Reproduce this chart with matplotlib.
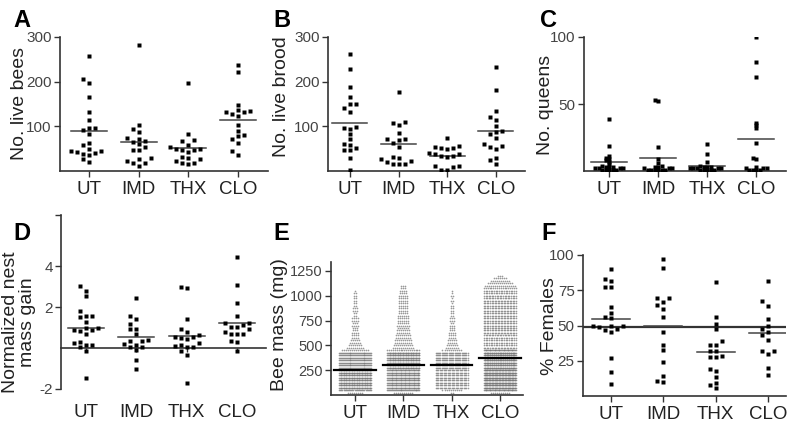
import numpy as np
import matplotlib.pyplot as plt

plt.rcParams['font.family'] = ['Liberation Sans', 'DejaVu Sans']

groups = ['UT', 'IMD', 'THX', 'CLO']

# A - live bees per nest
bees_ut = [257, 205, 196, 166, 132, 114, 97, 96, 92, 83, 62, 59, 50, 45, 44, 42, 40, 38, 36, 26, 20]
bees_imd = [281, 102, 94, 87, 75, 72, 67, 65, 60, 54, 47, 47, 28, 27, 22, 19, 19, 11]
bees_thx = [196, 83, 69, 67, 58, 53, 50, 49, 47, 47, 43, 32, 30, 26, 22, 19, 19, 16]
bees_clo = [237, 222, 148, 136, 134, 132, 132, 127, 123, 103, 90, 80, 78, 71, 62, 44, 36]

# B - live brood
brood_ut = [263, 228, 189, 165, 151, 149, 141, 131, 99, 97, 95, 83, 71, 60, 59, 51, 46, 46, 28, 2]
brood_imd = [176, 109, 108, 104, 84, 71, 71, 69, 62, 53, 32, 28, 26, 22, 20, 15, 15, 15]
brood_thx = [75, 57, 53, 51, 51, 49, 41, 38, 37, 34, 34, 32, 11, 11, 8, 2, 2]
brood_clo = [232, 181, 134, 122, 114, 101, 90, 87, 83, 75, 60, 57, 53, 50, 28, 25, 16]

# C - queens
queens_ut = [39, 19, 11, 10, 9, 8, 7, 5, 4, 3, 3, 3, 2, 2, 2, 2, 1, 1, 1, 1, 1]
queens_imd = [53, 52, 18, 9, 6, 4, 3, 3, 2, 2, 2, 1, 1, 1, 1, 1, 1]
queens_thx = [20, 13, 7, 4, 3, 3, 3, 2, 2, 2, 2, 2, 1, 1, 1, 1, 1]
queens_clo = [100, 81, 70, 36, 34, 32, 21, 10, 9, 3, 2, 2, 2, 1, 1, 1, 1]

# D - normalized nest mass gain
nest_ut = [3.02, 2.80, 2.54, 1.79, 1.59, 1.56, 1.50, 1.27, 0.98, 0.98, 0.88, 0.88, 0.85, 0.68,
           0.29, 0.23, 0.16, 0.16, 0.03, -0.13, -1.46]
nest_imd = [2.44, 1.59, 1.40, 1.17, 0.94, 0.91, 0.68, 0.39, 0.36, 0.33, 0.20, 0.16, 0.07, 0.03,
            -0.10, -0.59, -1.01]
nest_thx = [2.99, 2.93, 1.43, 0.91, 0.78, 0.65, 0.55, 0.52, 0.50, 0.46, 0.26, 0.16, 0.10, 0.07,
            0.07, -0.13, -0.33, -1.69]
nest_clo = [4.46, 3.06, 2.21, 1.59, 1.24, 1.20, 1.14, 1.04, 1.04, 0.91, 0.78, 0.68, 0.68, 0.68,
            0.33, 0.29, -0.13]

# E - bee mass (mg), counts of bees per 25 mg row
mass_rows = list(range(25, 1225, 25))
mass_ut = [8, 30, 45, 45, 45, 45, 45, 45, 45, 45, 35, 35, 35, 35, 35, 35, 35,
           14, 9, 7, 6, 5, 4, 4, 4, 3, 3, 4, 3, 4, 4, 2, 2, 3, 3, 2, 2, 2, 2, 2, 2, 1,
           0, 0, 0, 0, 0, 0]
mass_imd = [10, 35, 40, 40, 40, 40, 40, 40, 40, 40, 45, 45, 45, 45, 45, 45, 45,
            18, 11, 10, 9, 9, 8, 8, 7, 7, 6, 7, 6, 6, 6, 6, 5, 5, 5, 5, 5, 5, 5, 5, 4, 4, 3, 3,
            0, 0, 0, 0]
mass_thx = [2, 10, 25, 25, 25, 25, 25, 25, 25, 25, 28, 28, 28, 28, 28, 28, 28,
            10, 7, 6, 5, 5, 4, 4, 4, 3, 3, 3, 2, 3, 3, 2, 2, 2, 2, 2, 1, 2, 1, 2, 1, 1,
            0, 0, 0, 0, 0, 0]
mass_clo = [10, 40, 55, 55, 55, 55, 55, 55, 55, 55, 50, 50, 50, 50, 50, 50, 50,
            40, 22, 20, 20, 20, 20, 21, 22, 22, 22, 22, 22, 22, 22, 22, 22, 22, 22, 22, 22, 22,
            21, 21, 20, 20, 18, 16, 13, 10, 7, 3]

# F - % females
fem_ut = [90.3, 83.2, 81.8, 77.5, 77.5, 63, 59, 55.7, 55.2, 50, 50, 50, 49, 47.6, 46.7, 45.7,
          26.8, 16.8, 8.3]
fem_imd = [97, 91, 69.4, 69.4, 66.6, 64.2, 61.4, 56.2, 45.3, 36.5, 32.7, 24, 14.5, 10.7, 9.7]
fem_thx = [80.8, 55.7, 51.4, 47.2, 39.1, 36.3, 36.3, 32, 32, 28.2, 27.7, 27.7, 19.2, 17.8,
           13.5, 9.2, 7.8, 5.5]
fem_clo = [81.8, 67.1, 63.7, 54.3, 49.5, 47.2, 45.7, 43.4, 40, 32, 32, 29.6, 20.1, 14.9]
fem_ref = 49

W, H = 787, 424
fig = plt.figure(figsize=(W / 100, H / 100), dpi=100)
ink = '#333333'


def px_axes(l, t, r, b):
    return fig.add_axes([l / W, 1 - b / H, (r - l) / W, (b - t) / H])


def style(ax, xlim, ylim, yticks, ylabels):
    ax.set_xlim(*xlim)
    ax.set_ylim(*ylim)
    for s in ['top', 'right']:
        ax.spines[s].set_visible(False)
    for s in ['left', 'bottom']:
        ax.spines[s].set_color(ink)
        ax.spines[s].set_linewidth(1.2)
    ax.set_xticks([1, 2, 3, 4], groups)
    ax.set_yticks(yticks, ylabels)
    ax.tick_params(axis='both', direction='out', length=4.5, width=1, color=ink)
    ax.tick_params(axis='x', labelsize=13.5, labelcolor='#222222', pad=3)
    ax.tick_params(axis='y', labelsize=11, labelcolor='#444444', pad=1.5)
    ax.patch.set_visible(False)


def swarm(ax, vals, pos, slot_px=6.0, min_dy=5.0):
    # simple column scatter: push points sideways when they overlap
    vals = np.asarray(vals, float)
    ypx = ax.transData.transform(np.column_stack([np.zeros(len(vals)), vals]))[:, 1]
    x0, x1 = ax.get_xlim()
    unit = ax.get_window_extent().width / (x1 - x0)
    slots = [0]
    for k in range(1, 30):
        slots += [-k, k]
    placed = {}
    xs = np.empty(len(vals))
    for i in np.argsort(ypx):
        for k in slots:
            if all(abs(ypx[i] - y) >= min_dy for y in placed.get(k, [])):
                placed.setdefault(k, []).append(ypx[i])
                break
        xs[i] = pos + k * slot_px / unit
    return xs


def column_plot(ax, data, slot_px=6.0, min_dy=5.0, hw=0.36):
    for i, vals in enumerate(data):
        p = i + 1
        xs = swarm(ax, vals, p, slot_px, min_dy)
        ax.plot(xs, vals, 's', ms=2.6, color='black', mec='none', zorder=3)
        m = np.mean(vals)
        ax.plot([p - hw, p + hw], [m, m], color='#444444', lw=1.1, zorder=2)


def ylab(x, y, text):
    fig.text(x / W, 1 - y / H, text, rotation=90, ha='center', va='center',
             fontsize=14, color='#222222', multialignment='center', linespacing=1.0)


def letter(x, y, text):
    fig.text(x / W, 1 - y / H, text, ha='left', va='top', fontsize=17,
             fontweight='bold', color='black')


# A
axA = px_axes(60, 37, 268, 171)
style(axA, (0.416, 4.6), (0, 300), [100, 200, 300], ['100', '200', '300'])
column_plot(axA, [bees_ut, bees_imd, bees_thx, bees_clo])
ylab(20, 103, 'No. live bees')
letter(13, 9, 'A')

# B
axB = px_axes(328, 37, 525, 171)
style(axB, (0.55, 4.6), (0, 300), [100, 200, 300], ['100', '200', '300'])
column_plot(axB, [brood_ut, brood_imd, brood_thx, brood_clo])
ylab(282, 97, 'No. live brood')
letter(273, 9, 'B')

# C
axC = px_axes(584, 37, 786, 171)
style(axC, (0.49, 4.61), (0, 100), [50, 100], ['50', '100'])
column_plot(axC, [queens_ut, queens_imd, queens_thx, queens_clo], slot_px=3.5, min_dy=1.5)
ylab(545, 105, 'No. queens')
letter(540, 9, 'C')

# D
axD = px_axes(61, 215, 266, 389)
style(axD, (0.5, 4.58), (-2, 6.5), [-2, 2, 4, 6.5], ['-2', '2', '4', ''])
axD.spines['bottom'].set_position(('data', 0))
axD.tick_params(axis='x', labelbottom=False, length=3)
secD = axD.secondary_xaxis(0)
secD.set_xticks([1, 2, 3, 4], groups)
secD.tick_params(length=0, labelsize=13.5, labelcolor='#222222', pad=11)
secD.spines['bottom'].set_visible(False)
column_plot(axD, [nest_ut, nest_imd, nest_thx, nest_clo])
ylab(19, 322, 'Normalized nest\nmass gain')
letter(13, 222, 'D')

# E
axE = px_axes(331, 262, 523, 395)
style(axE, (0.5, 4.48), (0, 1340), [250, 500, 750, 1000, 1250],
      ['250', '500', '750', '1000', '1250'])
axE.tick_params(axis='y', labelsize=10.5)
for i, counts in enumerate([mass_ut, mass_imd, mass_thx, mass_clo]):
    p = i + 1
    xs, ys = [], []
    for y, n in zip(mass_rows, counts):
        if n == 0:
            continue
        sp = min(0.042, 0.66 / max(n - 1, 1))
        xs.extend(p + (np.arange(n) - (n - 1) / 2) * sp)
        ys.extend([y] * n)
    axE.plot(xs, ys, 'o', ms=1.2, color='#777777', mec='none', alpha=0.75, zorder=2)
    med = np.median(np.repeat(mass_rows, counts))
    axE.plot([p - 0.43, p + 0.43], [med, med], color='black', lw=1.6, zorder=3)
ylab(279, 325, 'Bee mass (mg)')
letter(273, 222, 'E')

# F
axF = px_axes(583, 255, 786, 396)
style(axF, (0.47, 4.34), (0, 100), [25, 50, 75, 100], ['25', '50', '75', '100'])
axF.axhline(fem_ref, color=ink, lw=1.6, zorder=1)
column_plot(axF, [fem_ut, fem_imd, fem_thx, fem_clo])
ylab(550, 326, '% Females')
letter(541, 222, 'F')

fig.savefig('out.png', dpi=100)
